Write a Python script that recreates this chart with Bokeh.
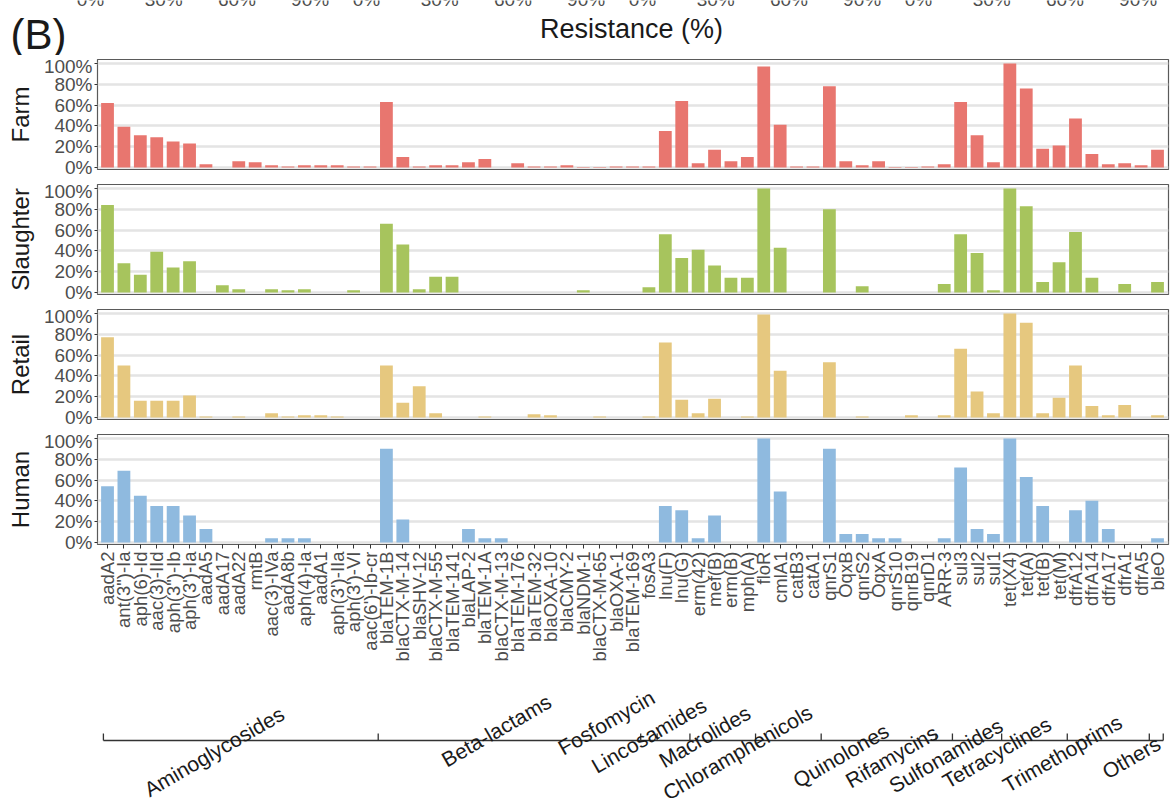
from math import pi
from bokeh.plotting import figure
from bokeh.layouts import column
from bokeh.models import Range1d, FixedTicker, PrintfTickFormatter, ColumnDataSource
from bokeh.core.properties import value
from bokeh.embed import file_html
from bokeh.resources import INLINE

# ---------------- data ----------------
genes = ["aadA2", 'ant(3")-Ia', "aph(6)-Id", "aac(3)-IId", 'aph(3")-Ib', "aph(3')-Ia", "aadA5",
         "aadA17", "aadA22", "rmtB", "aac(3)-IVa", "aadA8b", "aph(4)-Ia", "aadA1", "aph(3')-IIa",
         "aph(3')-VI", "aac(6')-Ib-cr",
         "blaTEM-1B", "blaCTX-M-14", "blaSHV-12", "blaCTX-M-55", "blaTEM-141", "blaLAP-2",
         "blaTEM-1A", "blaCTX-M-13", "blaTEM-176", "blaTEM-32", "blaOXA-10", "blaCMY-2",
         "blaNDM-1", "blaCTX-M-65", "blaOXA-1", "blaTEM-169",
         "fosA3",
         "lnu(F)", "lnu(G)",
         "erm(42)", "mef(B)", "erm(B)", "mph(A)",
         "floR", "cmlA1", "catB3", "catA1",
         "qnrS1", "OqxB", "qnrS2", "OqxA", "qnrS10", "qnrB19", "qnrD1",
         "ARR-3",
         "sul3", "sul2", "sul1",
         "tet(X4)", "tet(A)", "tet(B)", "tet(M)",
         "dfrA12", "dfrA14", "dfrA17", "dfrA1", "dfrA5",
         "bleO"]

groups = ["Aminoglycosides", "Beta-lactams", "Fosfomycin", "Lincosamides", "Macrolides",
          "Chloramphenicols", "Quinolones", "Rifamycins", "Sulfonamides", "Tetracyclines",
          "Trimethoprims", "Others"]
group_sizes = [17, 16, 1, 2, 4, 4, 7, 1, 3, 4, 5, 1]

farm = [62, 39, 31, 29, 25, 23, 3, 0, 6, 5, 2, 1, 2, 2, 2, 1, 1,
        63, 10, 1, 2, 2, 5, 8, 0, 4, 1, 1, 2, 0.5, 0.5, 1, 1,
        1,
        35, 64,
        4, 17, 6, 10,
        97, 41, 1, 1,
        78, 6, 2, 6, 0.5, 0.5, 1,
        3,
        63, 31, 5,
        100, 76, 18, 21,
        47, 13, 3, 4, 2,
        17]

slaughter = [84, 28, 17, 39, 24, 30, 0, 7, 3, 0, 3, 2, 3, 0, 0, 2, 0,
             66, 46, 3, 15, 15, 0, 0, 0, 0, 0, 0, 0, 2, 0, 0, 0,
             5,
             56, 33,
             41, 26, 14, 14,
             100, 43, 0, 0,
             80, 0, 6, 0, 0, 0, 0,
             8,
             56, 38, 2,
             100, 83, 10, 29,
             58, 14, 0, 8, 0,
             10]

retail = [77, 50, 16, 16, 16, 21, 1, 0, 1, 0, 4, 1, 2, 2, 1, 0, 0,
          50, 14, 30, 4, 0, 0, 1, 0, 0, 3, 2, 0, 0, 1, 0, 0,
          1,
          72, 17,
          4, 18, 0, 1,
          99, 45, 0, 0,
          53, 0, 1, 0, 0, 2, 0,
          2,
          66, 25, 4,
          100, 91, 4, 19,
          50, 11, 2, 12, 0,
          2]

human = [54, 69, 45, 35, 35, 26, 13, 0, 0, 0, 4, 4, 4, 0, 0, 0, 0,
         90, 22, 0, 0, 0, 13, 4, 4, 0, 0, 0, 0, 0, 0, 0, 0,
         0,
         35, 31,
         4, 26, 0, 0,
         100, 49, 0, 0,
         90, 8, 8, 4, 4, 0, 0,
         4,
         72, 13, 8,
         100, 63, 35, 0,
         31, 40, 13, 0, 0,
         4]

panel_names = ["Farm", "Slaughter", "Retail", "Human"]
panel_colors = ["#E8766F", "#A7C45D", "#E6C87F", "#8FBADF"]
y_ticks = [0, 20, 40, 60, 80, 100]

top_tick_labels = ["0%", "30%", "60%", "90%"]
top_tick_values = [0, 30, 60, 90]

# ---------------- layout / style ----------------
FONT = "Liberation Sans"
W = 1170
LEFT, RIGHT = 97, 2
TXT = "#1A1A1A"
TICK_TXT = "#4D4D4D"

# placement of the class labels (offset from class centre in bar slots, page y)
label_dx = [-1.5, -0.8, -2.6, -1.5, -1.1, -3.1, -2.3, -3.2, -1.9, -2.3, -2.8, -1.6]
label_y = [751, 730, 722, 735, 736, 752, 755, 756, 755, 752, 753, 757]

n = len(genes)
xs = list(range(n))
xr = Range1d(-0.61, n - 1 + 0.67)


def no_align(fig):
    if "frame_align" in fig.properties():
        fig.frame_align = False


# ---- top strip: (B), Resistance (%), cut-off tick labels of the panel above (page px) ----
TOP_H = 55
pt = figure(width=W, height=TOP_H, x_range=Range1d(0, W), y_range=Range1d(TOP_H, 0),
            x_axis_type=None, y_axis_type=None, output_backend="svg", toolbar_location=None,
            min_border=0, min_border_left=0, min_border_right=0, min_border_top=0,
            min_border_bottom=0, outline_line_color=None)
no_align(pt)
pt.grid.visible = False
tx, tt = [], []
for f in range(4):
    for lab, v in zip(top_tick_labels, top_tick_values):
        tx.append(90 + f * 276 + v * 2.44)
        tt.append(lab)
# only the lower part of these labels shows (they belong to a panel above this one)
pt.text(x=tx, y=[-1.5] * len(tx), text=tt, text_align="center", text_baseline="alphabetic",
        text_font=value(FONT), text_font_size="19px", text_color=TICK_TXT)
pt.text(x=[10], y=[34], text=["(B)"], text_align="left", text_baseline="middle",
        text_font=value(FONT), text_font_size="42px", text_color=TXT)
pt.text(x=[631], y=[28], text=["Resistance (%)"], text_align="center", text_baseline="middle",
        text_font=value(FONT), text_font_size="27px", text_color=TXT)

figs = [pt]
series = [farm, slaughter, retail, human]
PANEL_H = 125
HUMAN_BOTTOM = 122
for i, (name, vals, col) in enumerate(zip(panel_names, series, panel_colors)):
    last = i == len(panel_names) - 1
    bottom = HUMAN_BOTTOM if last else 11
    h = 4 + 110 + bottom
    p = figure(width=W, height=h, x_range=xr, y_range=Range1d(-2, 103.8),
               output_backend="svg", toolbar_location=None,
               min_border_left=LEFT, min_border_right=RIGHT, min_border_top=4,
               min_border_bottom=bottom)
    src = ColumnDataSource(dict(x=xs, top=vals))
    p.vbar(x="x", top="top", bottom=0, width=0.78, source=src, fill_color=col, line_color=None)
    p.outline_line_color = "#5A5A5A"
    p.outline_line_width = 1.2
    p.xgrid.visible = False
    p.ygrid.ticker = FixedTicker(ticks=y_ticks)
    p.ygrid.grid_line_color = "#E4E4E4"
    p.ygrid.grid_line_width = 2.5
    ya = p.yaxis[0]
    ya.ticker = FixedTicker(ticks=y_ticks)
    ya.formatter = PrintfTickFormatter(format="%d%%")
    ya.axis_line_color = None
    ya.major_tick_out = 3
    ya.major_tick_in = 0
    ya.major_tick_line_color = "#333333"
    ya.minor_tick_line_color = None
    ya.major_label_standoff = 2
    ya.major_label_text_font = FONT
    ya.major_label_text_font_size = "19px"
    ya.major_label_text_color = TICK_TXT
    ya.axis_label = name
    ya.axis_label_text_font = FONT
    ya.axis_label_text_font_size = "24px"
    ya.axis_label_text_font_style = "normal"
    ya.axis_label_text_color = TXT
    ya.axis_label_standoff = 7
    xa = p.xaxis[0]
    if last:
        xa.ticker = FixedTicker(ticks=xs)
        xa.major_label_overrides = {i2: g for i2, g in enumerate(genes)}
        xa.major_label_orientation = pi / 2
        xa.axis_line_color = None
        xa.major_tick_out = 4
        xa.major_tick_in = 0
        xa.major_tick_line_color = "#333333"
        xa.minor_tick_line_color = None
        xa.major_label_standoff = 3
        xa.major_label_text_font = FONT
        xa.major_label_text_font_size = "18.5px"
        xa.major_label_text_color = TICK_TXT
    else:
        xa.visible = False
    figs.append(p)

# ---- bottom strip: class brackets and labels (y in page pixels) ----
BOT_TOP = TOP_H + 3 * PANEL_H + (4 + 110 + HUMAN_BOTTOM)
BOT_H = 798 - BOT_TOP
pb = figure(width=W, height=BOT_H, x_range=xr, y_range=Range1d(BOT_TOP + BOT_H, BOT_TOP),
            x_axis_type=None, y_axis_type=None, output_backend="svg", toolbar_location=None,
            min_border_left=LEFT, min_border_right=RIGHT, min_border_top=0, min_border_bottom=0,
            outline_line_color=None)
pb.grid.visible = False
starts = []
s = 0
for g in group_sizes:
    starts.append(s)
    s += g
ends = [st + g - 1 for st, g in zip(starts, group_sizes)]
line_y = 740
pb.segment(x0=[starts[0] - 0.25], x1=[ends[-1] + 0.35], y0=[line_y], y1=[line_y],
           line_color="#333333", line_width=1.3)
bx = [starts[0] - 0.25] + [st - 0.5 for st in starts[1:]] + [ends[-1] + 0.35]
pb.segment(x0=bx, x1=bx, y0=[line_y] * len(bx), y1=[line_y - 7] * len(bx),
           line_color="#333333", line_width=1.3)
lx = [(a + b) / 2 + d for a, b, d in zip(starts, ends, label_dx)]
pb.text(x=lx, y=label_y, text=groups, angle=pi / 6,
        text_align="center", text_baseline="middle",
        text_font=value(FONT), text_font_size="21px", text_color=TXT)
figs.append(pb)

layout = column(*figs, spacing=0)
open("out.html", "w").write(file_html(layout, INLINE))
